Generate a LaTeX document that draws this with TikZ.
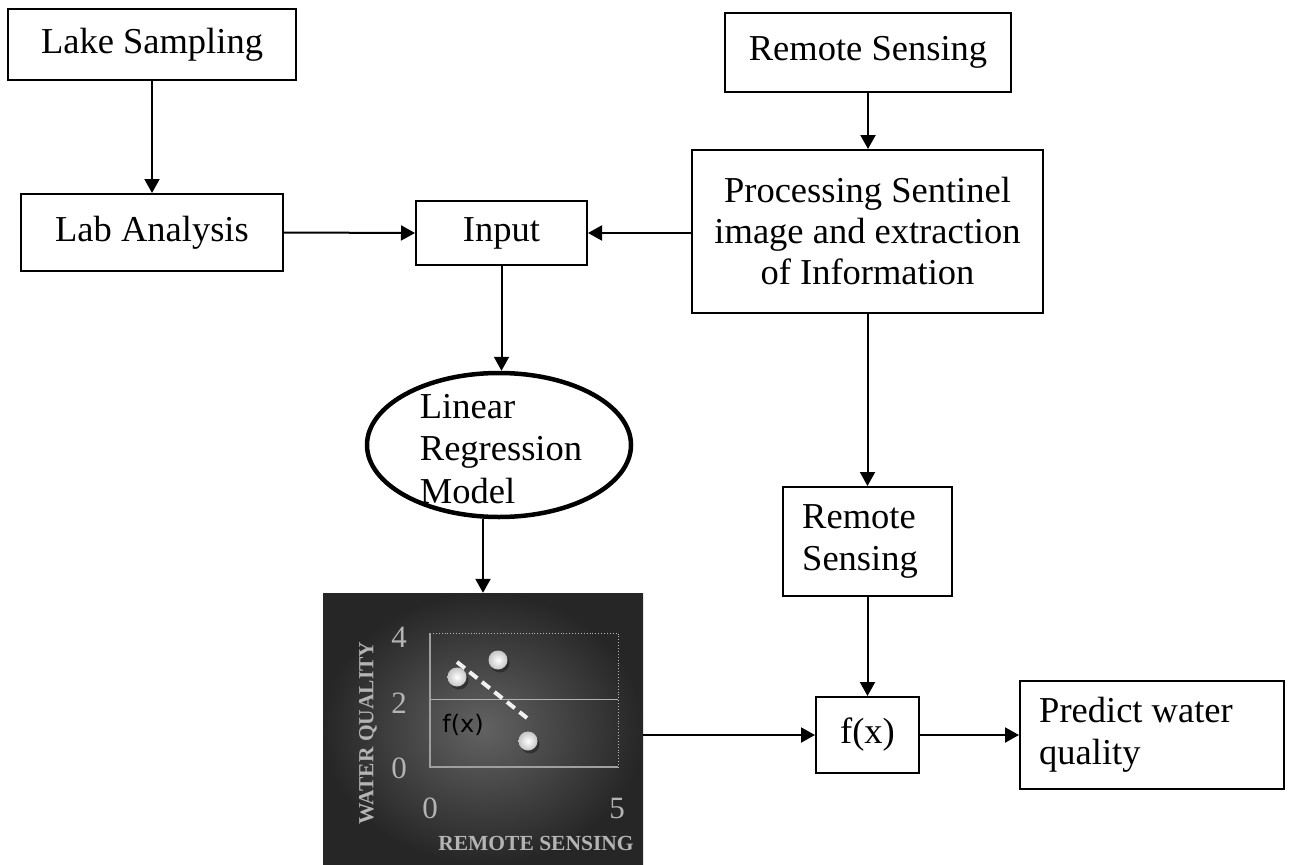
\documentclass[tikz,border=0pt]{standalone}
\usepackage{fontspec}
\setmainfont{Liberation Serif}
\newfontfamily\plotsans{DejaVu Sans}
\usetikzlibrary{arrows.meta,shapes.geometric}
\definecolor{chartin}{HTML}{626262}
\definecolor{chartout}{HTML}{262626}
\definecolor{axlabc}{HTML}{B4B4B4}
\begin{document}
\begin{tikzpicture}[x=1pt,y=-1pt,
  box/.style={draw, line width=2pt, inner sep=0pt, align=center,
    font=\fontsize{36.5}{42}\selectfont},
  arr/.style={line width=2pt, -{Triangle[length=14pt,width=15pt]}},
  txt/.style={inner sep=0pt, align=left, font=\fontsize{36.5}{42.5}\selectfont},
  lrm/.style={draw, ellipse, line width=4.5pt, inner sep=0pt},
  axlab/.style={inner sep=0pt, text=axlabc, font=\fontsize{31}{31}\selectfont},
  axtitle/.style={inner sep=0pt, text=axlabc, font=\fontsize{21.5}{21.5}\selectfont\bfseries},
  dot/.style={inner color=white, outer color=gray!45},
]
\useasboundingbox (0,0) rectangle (1289,864);

% boxes
\node[box, minimum width=288pt, minimum height=71pt] (lake) at (152,44.5) {Lake Sampling};
\node[box, minimum width=262pt, minimum height=77pt] (lab) at (152,232.5) {Lab Analysis};
\node[box, minimum width=171pt, minimum height=64pt] (input) at (501.5,233) {Input};
\node[box, minimum width=286pt, minimum height=79pt] (rs1) at (868,52.5) {Remote Sensing};
\node[box, minimum width=351pt, minimum height=163pt, font=\fontsize{36.5}{41}\selectfont] (proc) at (867.5,231.5)
  {Processing Sentinel\\image and extraction\\of Information};
\node[lrm, minimum width=264pt, minimum height=144pt] (lr) at (499,445) {};
\node[txt] (lrt) at (501,449) {Linear\\Regression\\Model};
\node[box, minimum width=169pt, minimum height=109pt] (rs2) at (867.5,541.5) {};
\node[txt, anchor=west] (rs2t) at ([xshift=20pt]rs2.west) {Remote\\Sensing};
\node[box, minimum width=103pt, minimum height=76pt] (fx) at (867.5,735) {f(x)};
\node[box, minimum width=264pt, minimum height=108pt] (pred) at (1152,735) {};
\node[txt, anchor=west] (predt) at ([xshift=20pt]pred.west) {Predict water\\quality};

% chart
\node[shade, inner color=chartin, outer color=chartout, minimum width=320pt, minimum height=271pt, inner sep=0pt] (chart) at (483,728.5) {};
\draw[gray!60, line width=0.8pt] (430,699) -- (618,699);
\draw[gray!55, dotted, line width=0.9pt] (430,633) -- (618,633) -- (618,767);
\draw[gray!75, line width=1.3pt] (430,633) -- (430,767) -- (618,767);
\node[axlab] (y4) at (399,637) {4};
\node[axlab] (y2) at (399,703) {2};
\node[axlab] (y0) at (399,768) {0};
\node[axlab] (x0) at (430,808) {0};
\node[axlab] (x5) at (617,808) {5};
\node[axtitle, rotate=90] (ytitle) at (368,733) {WATER QUALITY};
\node[axtitle] (xtitle) at (536,843) {REMOTE SENSING};
\draw[white!88!gray, line width=4pt, dash pattern=on 10pt off 6pt] (457,662) -- (527,718);
\fill[black, opacity=0.35] (459,680) circle (9.5pt);
\fill[black, opacity=0.35] (500,663) circle (9.5pt);
\fill[black, opacity=0.35] (530,744) circle (9.5pt);
\shade[dot] (457,677) circle (9.5pt);
\shade[dot] (498,660) circle (9.5pt);
\shade[dot] (528,741) circle (9.5pt);
\node[inner sep=0pt, font=\plotsans\fontsize{24}{24}\selectfont] (fxl) at (463,725) {f(x)};

% connectors
\draw[arr] (lake.south) -- (lab.north);
\draw[arr] (lab.east) -- (input.west);
\draw[arr] (proc.west |- input.east) -- (input.east);
\draw[arr] (rs1.south) -- (rs1.south |- proc.north);
\draw[arr] (input.south) -- (input.south |- lr.north);
\draw[arr] (lr.south -| chart.north) -- (chart.north);
\draw[arr] (proc.south) -- (rs2.north);
\draw[arr] (rs2.south) -- (fx.north);
\draw[arr] (chart.east |- fx.west) -- (fx.west);
\draw[arr] (fx.east) -- (pred.west);
\end{tikzpicture}
\end{document}
